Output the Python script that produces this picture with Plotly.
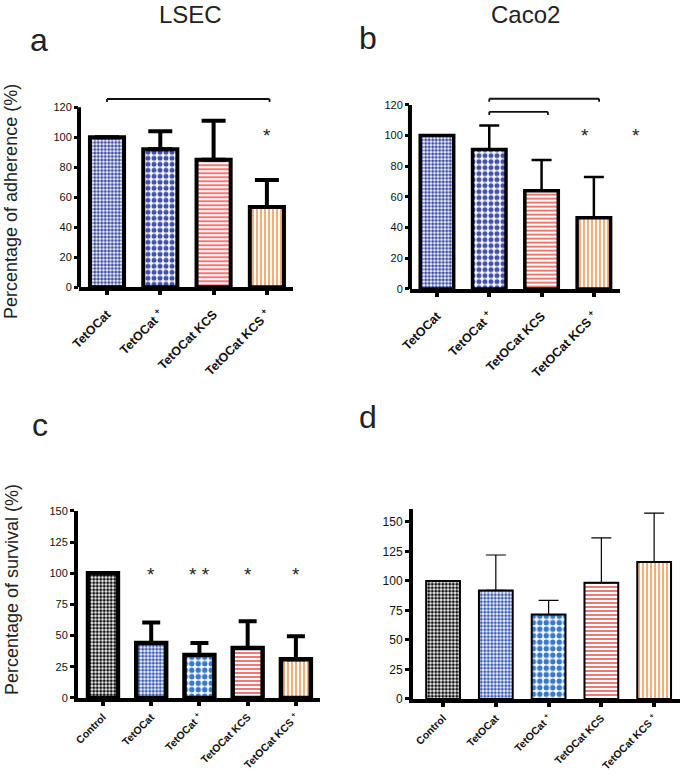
import plotly.graph_objects as go

# adherence (panels a, b)
adh_categories = ["TetOCat", "TetOCat +", "TetOCat KCS", "TetOCat KCS +"]
lsec_adherence = [100, 92, 85, 53.5]
lsec_adherence_sd = [None, 12, 26, 18]
caco2_adherence = [100, 91, 64, 46.5]
caco2_adherence_sd = [None, 15.5, 20, 26.5]
adh_ticks = [0, 20, 40, 60, 80, 100, 120]

# survival (panels c, d)
surv_categories = ["Control", "TetOCat", "TetOCat +", "TetOCat KCS", "TetOCat KCS +"]
lsec_survival = [100, 44, 34.5, 40, 31]
lsec_survival_sd = [None, 16.5, 9.5, 21.5, 18.5]
caco2_survival = [100, 92, 71.5, 98.5, 116]
caco2_survival_sd = [None, 30, 12, 38, 41.5]
surv_ticks = [0, 25, 50, 75, 100, 125, 150]

# significance: (category position, level, text) and brackets (from, to, level)
lsec_adh_stars = [(3, 103.4, "*")]
caco2_adh_stars = [(2.83, 101.8, "*"), (3.8, 101.8, "*")]
lsec_surv_stars = [(1, 101.4, "*"), (2, 101.4, "* *"), (3, 101.4, "*"), (4, 101.4, "*")]
lsec_adh_brackets = [(0, 3.05, 125.5)]
caco2_adh_brackets = [(1, 3.1, 124), (1, 2.12, 115.5)]

FONT = "Liberation Sans, Arial, Helvetica, sans-serif"

# fill patterns: shape, colour, size, solidity
top_fills = {
    "TetOCat": (".", "#3f4fa6", 3.5, 0.6),
    "TetOCat +": (".", "#4252a8", 6, 0.55),
    "TetOCat KCS": ("-", "#e83a3a", 4, 0.35),
    "TetOCat KCS +": ("|", "#f28a3a", 4, 0.35),
}
bottom_fills = {
    "Control": (".", "#111111", 3.5, 0.6),
    "TetOCat": (".", "#3a5cb8", 3.5, 0.6),
    "TetOCat +": (".", "#3a78c8", 6.5, 0.55),
    "TetOCat KCS": ("-", "#e83a3a", 4, 0.35),
    "TetOCat KCS +": ("|", "#f28a3a", 4, 0.35),
}


def tick_label(c):
    # the "+" is set as a superscript in the original figure
    return c.replace(" +", " <sup>+</sup>")


panels = [
    dict(n="", cats=adh_categories, vals=lsec_adherence, sd=lsec_adherence_sd, fills=top_fills,
         xdom=[0.1162, 0.4309], ydom=[0.628, 0.8766], xr=[-0.525, 3.49], yr=[0, 128],
         ticks=adh_ticks, yline=120, bw=0.64, outline=4, err=4, cap=12, tfs=11, cfs=12.5, so=7),
    dict(n="2", cats=adh_categories, vals=caco2_adherence, sd=caco2_adherence_sd, fills=top_fills,
         xdom=[0.6029, 0.9118], ydom=[0.6257, 0.880], xr=[-0.516, 3.5], yr=[0, 128],
         ticks=adh_ticks, yline=120, bw=0.64, outline=3.5, err=2.5, cap=10, tfs=11, cfs=12.5, so=7),
    dict(n="3", cats=surv_categories, vals=lsec_survival, sd=lsec_survival_sd, fills=bottom_fills,
         xdom=[0.1147, 0.4706], ydom=[0.0959, 0.3381], xr=[-0.518, 4.5], yr=[0, 150],
         ticks=surv_ticks, yline=None, bw=0.62, outline=4.5, err=4, cap=9, tfs=11, cfs=10.5, so=1),
    dict(n="4", cats=surv_categories, vals=caco2_survival, sd=caco2_survival_sd, fills=bottom_fills,
         xdom=[0.6074, 1.0], ydom=[0.0946, 0.3407], xr=[-0.569, 4.49], yr=[0, 161],
         ticks=surv_ticks, yline=None, bw=0.64, outline=2, err=1.2, cap=10, tfs=12, cfs=10.5, so=1),
]

fig = go.Figure()
layout = {}
for p in panels:
    fl = [p["fills"][c] for c in p["cats"]]
    fig.add_trace(go.Bar(
        x=p["cats"], y=p["vals"], width=p["bw"],
        xaxis="x" + p["n"], yaxis="y" + p["n"], showlegend=False,
        marker=dict(
            color="white",
            line=dict(color="black", width=p["outline"]),
            pattern=dict(shape=[f[0] for f in fl], fgcolor=[f[1] for f in fl],
                         size=[f[2] for f in fl], solidity=[f[3] for f in fl],
                         bgcolor="white", fillmode="replace"),
        ),
        error_y=dict(type="data", array=p["sd"], symmetric=False,
                     arrayminus=[0] * len(p["cats"]), color="black",
                     thickness=p["err"], width=p["cap"]),
    ))
    layout["xaxis" + p["n"]] = dict(
        domain=p["xdom"], range=p["xr"], anchor="y" + p["n"], automargin=False,
        showline=True, linewidth=4, linecolor="black", showgrid=False, zeroline=False,
        tickvals=p["cats"], ticktext=[tick_label(c) for c in p["cats"]],
        ticks="outside", ticklen=4, tickwidth=4, tickcolor="black", tickangle=-45,
        ticklabelstandoff=p["so"],
        tickfont=dict(family=FONT, size=p["cfs"], color="#111", weight="bold"),
    )
    layout["yaxis" + p["n"]] = dict(
        domain=p["ydom"], range=p["yr"], anchor="x" + p["n"], automargin=False,
        showline=p["yline"] is None, linewidth=4, linecolor="black",
        showgrid=False, zeroline=False, tickvals=p["ticks"],
        ticks="outside", ticklen=4, tickwidth=2.5, tickcolor="black",
        tickfont=dict(family=FONT, size=p["tfs"], color="#111"),
    )

fig.update_layout(**layout)

shapes = []
annotations = []
for p in panels:
    if p["yline"] is not None:
        shapes.append(dict(type="line", xref="x" + p["n"] + " domain", yref="y" + p["n"],
                           x0=0, x1=0, y0=0, y1=p["yline"],
                           line=dict(color="black", width=4)))


def add_brackets(brackets, n):
    for x0, x1, lvl in brackets:
        for seg in [(x0, lvl, x1, lvl), (x0, lvl, x0, lvl - 2), (x1, lvl, x1, lvl - 2)]:
            shapes.append(dict(type="line", xref="x" + n, yref="y" + n,
                               x0=seg[0], y0=seg[1], x1=seg[2], y1=seg[3],
                               line=dict(color="#111", width=1.8)))


def add_stars(stars, p):
    r0, r1 = p["xr"]
    for pos, lvl, txt in stars:
        annotations.append(dict(xref="x" + p["n"] + " domain", yref="y" + p["n"],
                                x=(pos - r0) / (r1 - r0), y=lvl, text=txt, showarrow=False,
                                xanchor="center", yanchor="middle", yshift=-3,
                                font=dict(family=FONT, size=19, color="#222")))


add_brackets(lsec_adh_brackets, "")
add_brackets(caco2_adh_brackets, "2")
add_stars(lsec_adh_stars, panels[0])
add_stars(caco2_adh_stars, panels[1])
add_stars(lsec_surv_stars, panels[2])

# titles, panel letters, y-axis titles
for txt, x, y, size in [("LSEC", 190, 15, 24), ("Caco2", 525, 15, 24),
                        ("a", 39, 40, 32), ("b", 368, 38, 32),
                        ("c", 40, 425, 32), ("d", 368, 417, 32)]:
    annotations.append(dict(xref="paper", yref="paper", x=x / 680, y=1 - y / 772,
                            text=txt, showarrow=False, xanchor="center", yanchor="middle",
                            font=dict(family=FONT, size=size, color="#222")))
for txt, x, y in [("Percentage of adherence (%)", 11, 202), ("Percentage of survival (%)", 12, 590)]:
    annotations.append(dict(xref="paper", yref="paper", x=x / 680, y=1 - y / 772,
                            text=txt, showarrow=False, textangle=-90,
                            xanchor="center", yanchor="middle",
                            font=dict(family=FONT, size=18, color="#222")))

fig.update_layout(
    width=680, height=772, margin=dict(l=0, r=0, t=0, b=0),
    plot_bgcolor="white", paper_bgcolor="white",
    bargap=0.3, shapes=shapes, annotations=annotations,
)

fig.write_html("out.html", config={"displayModeBar": False},
               post_script="document.body.style.margin='0';")
